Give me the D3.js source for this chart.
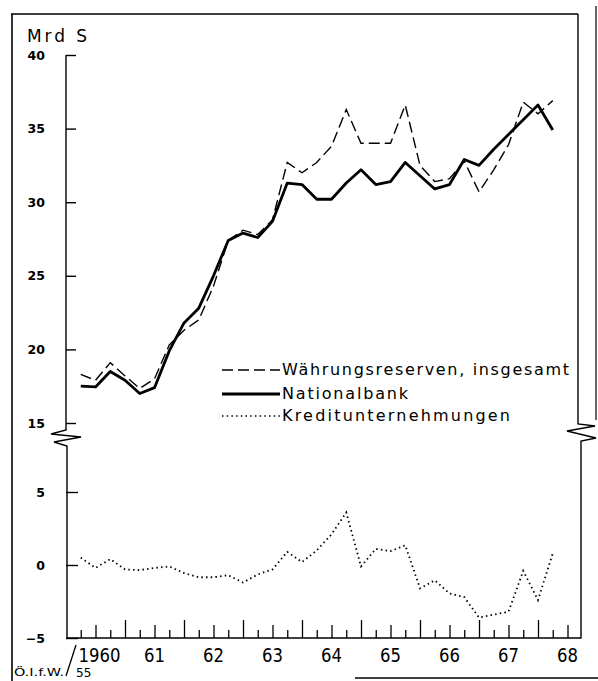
<!DOCTYPE html>
<html><head><meta charset="utf-8">
<script src="https://cdn.jsdelivr.net/npm/d3@7"></script>
<style>body{margin:0;background:#fff}svg{display:block}</style>
</head><body>
<script>
const quarters = ["1960 I","1960 II","1960 III","1960 IV","1961 I","1961 II","1961 III","1961 IV",
  "1962 I","1962 II","1962 III","1962 IV","1963 I","1963 II","1963 III","1963 IV",
  "1964 I","1964 II","1964 III","1964 IV","1965 I","1965 II","1965 III","1965 IV",
  "1966 I","1966 II","1966 III","1966 IV","1967 I","1967 II","1967 III","1967 IV","1968 I"];
const totalReserves = [18.3,17.9,19.1,18.2,17.35,18.0,20.3,21.3,22.0,24.3,27.4,28.1,27.8,28.8,32.7,32.0,
  32.7,33.8,36.3,34.0,34.0,34.0,36.6,32.5,31.4,31.6,32.8,30.7,32.2,33.9,36.8,36.0,36.9];
const nationalbank = [17.5,17.45,18.5,17.9,17.0,17.4,19.9,21.8,22.8,25.0,27.4,27.9,27.6,28.7,31.3,31.2,
  30.2,30.2,31.3,32.2,31.2,31.4,32.7,31.8,30.9,31.2,32.9,32.5,33.6,34.6,35.6,36.6,34.9];
const kreditunternehmungen = [0.5,-0.2,0.4,-0.3,-0.35,-0.2,-0.1,-0.55,-0.84,-0.84,-0.7,-1.2,-0.65,-0.3,0.9,0.2,
  1.0,2.1,3.6,-0.1,1.1,0.95,1.35,-1.6,-1.05,-1.95,-2.2,-3.6,-3.4,-3.2,-0.4,-2.4,0.8];
const upperTicks = [15,20,25,30,35,40];
const lowerTicks = [-5,0,5];
const yearLabels = ["1960","61","62","63","64","65","66","67","68"];
const legendLabels = ["Währungsreserven, insgesamt","Nationalbank","Kreditunternehmungen"];
const unitLabel = "Mrd S";
const sourceLabel = "Ö.I.f.W.";
const sourceNumber = "55";

const W = 598, H = 681;
const svg = d3.select("body").append("svg").attr("width", W).attr("height", H)
  .style("font-family", "'DejaVu Sans', sans-serif");

const qOffset = {I: 0.25, II: 0.5, III: 0.75, IV: 1.0};
const toT = q => { const p = q.split(" "); return +p[0] + qOffset[p[1]]; };

const x = d3.scaleLinear().domain([1960, 1968]).range([66, 538]);
const yU = d3.scaleLinear().domain([15, 40]).range([423, 55]);
const yL = d3.scaleLinear().domain([-5, 5]).range([638, 492]);

// frame
const frame = svg.append("g").attr("fill", "none").attr("stroke", "#000");
frame.append("path").attr("d", "M11,14 H578").attr("stroke-width", 1.6);
frame.append("path").attr("d", "M12,14 V681").attr("stroke-width", 1.6);
frame.append("path").attr("d", "M596,6 V420").attr("stroke-width", 1.2);
frame.append("path").attr("d", "M355,678 H598").attr("stroke-width", 1.6);

// axis lines with breaks
const ax = svg.append("g").attr("fill", "none").attr("stroke", "#000").attr("stroke-width", 1.4);
ax.append("path").attr("d", "M66,55 V430 L51,434 L81,437 L54,442 L67,446 V638 H581 V441 L596,438 L567,431 L595,426 L578,424 V14");

// y axes
const yAxU = d3.axisLeft(yU).tickValues(upperTicks).tickSizeInner(-10).tickSizeOuter(0).tickPadding(21);
const gU = svg.append("g").attr("transform", "translate(66,0)").call(yAxU);
const yAxL = d3.axisLeft(yL).tickValues(lowerTicks).tickSizeInner(-12).tickSizeOuter(0).tickPadding(21);
const gL = svg.append("g").attr("transform", "translate(66,0)").call(yAxL);
[gU, gL].forEach(g => {
  g.select(".domain").remove();
  g.selectAll(".tick line").attr("stroke", "#000").attr("stroke-width", 1.4);
  g.selectAll(".tick text").attr("fill", "#000").attr("font-size", 12.5).attr("font-weight", "bold")
    .attr("font-family", "'DejaVu Sans', sans-serif");
});

// x axis quarterly ticks
const xTicks = d3.range(1960.25, 1968.51, 0.25);
const xAx = d3.axisBottom(x).tickValues(xTicks).tickSizeOuter(0).tickFormat("");
const gX = svg.append("g").attr("transform", "translate(0,638)").call(xAx);
gX.select(".domain").remove();
gX.selectAll(".tick line").attr("stroke", "#000").attr("stroke-width", 1.3)
  .attr("y2", d => {
    const f = Math.round((d % 1) * 4);
    return f === 0 ? -18 : (f === 2 ? -13 : -8);
  });

// year labels
svg.append("g").selectAll("text").data(yearLabels).join("text")
  .attr("x", (d, i) => x(1960 + i + 0.5) + (i === 0 ? 4 : 0))
  .attr("y", 662)
  .attr("text-anchor", "middle")
  .attr("font-size", 20)
  .attr("textLength", d => d.length * 10.5)
  .attr("lengthAdjust", "spacingAndGlyphs")
  .text(d => d);

// unit label
svg.append("text").attr("x", 27).attr("y", 42).attr("font-size", 17)
  .attr("textLength", 60).attr("lengthAdjust", "spacing").text(unitLabel);

// source note
svg.append("text").attr("x", 14).attr("y", 676).attr("font-size", 11).attr("textLength", 50)
  .attr("lengthAdjust", "spacingAndGlyphs").text(sourceLabel);
svg.append("path").attr("d", "M66,676 L76,645").attr("stroke", "#000").attr("stroke-width", 1.3);
svg.append("text").attr("x", 76).attr("y", 677).attr("font-size", 12).text(sourceNumber);

// series
const xi = (d, i) => x(toT(quarters[i]));
const lineU = d3.line().x(xi).y(d => yU(d));
const lineL = d3.line().x(xi).y(d => yL(d));

svg.append("path").datum(totalReserves).attr("d", lineU).attr("fill", "none")
  .attr("stroke", "#000").attr("stroke-width", 1.4).attr("stroke-dasharray", "11,5");
svg.append("path").datum(nationalbank).attr("d", lineU).attr("fill", "none")
  .attr("stroke", "#000").attr("stroke-width", 2.8).attr("stroke-linejoin", "round");
svg.append("path").datum(kreditunternehmungen).attr("d", lineL).attr("fill", "none")
  .attr("stroke", "#000").attr("stroke-width", 1.8).attr("stroke-dasharray", "1.5,3.2");

// legend
const legY = [370, 394, 416];
const legStyles = [
  {w: 1.4, dash: "11,5"},
  {w: 2.8, dash: null},
  {w: 1.6, dash: "1.5,3.2"}
];
const legTL = [287, 126, 228];
const leg = svg.append("g");
legendLabels.forEach((lab, i) => {
  leg.append("line").attr("x1", 222).attr("x2", 280).attr("y1", legY[i]).attr("y2", legY[i])
    .attr("stroke", "#000").attr("stroke-width", legStyles[i].w)
    .attr("stroke-dasharray", legStyles[i].dash);
  leg.append("text").attr("x", 282).attr("y", legY[i] + 5).attr("font-size", 16)
    .attr("textLength", legTL[i]).attr("lengthAdjust", "spacing").text(lab);
});
</script>
</body></html>
